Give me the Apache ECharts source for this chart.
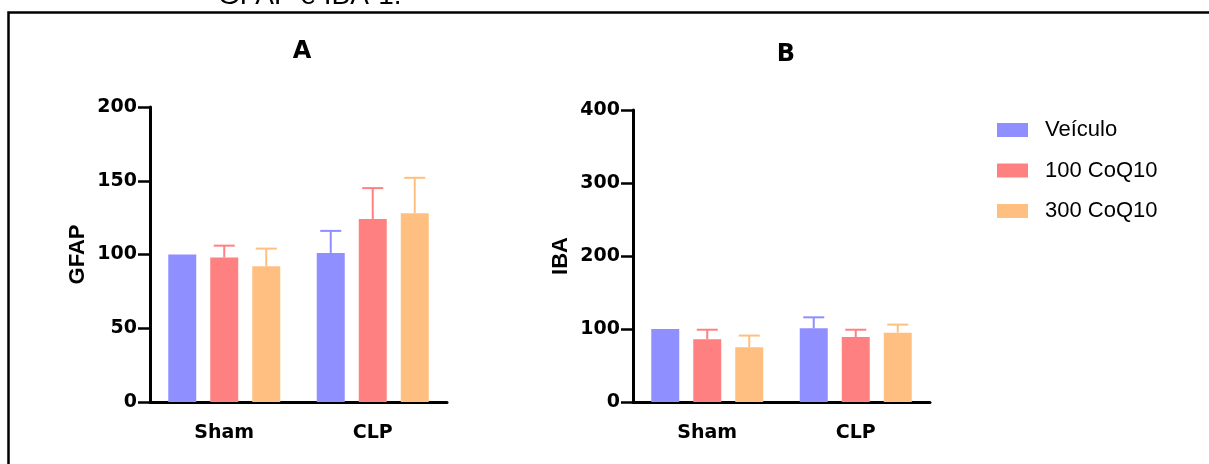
<!DOCTYPE html>
<html>
<head>
<meta charset="utf-8">
<script src="https://cdn.jsdelivr.net/npm/echarts@6/dist/echarts.min.js"></script>
<style>
html,body{margin:0;padding:0;background:#fff;}
#chart{width:1209px;height:464px;}
</style>
</head>
<body>
<div id="chart"></div>
<script>
// ---- data ----
var categories = ['Sham', 'CLP'];
var seriesNames = ['Veículo', '100 CoQ10', '300 CoQ10'];
var colors = ['#8F8FFF', '#FF8080', '#FFBF80'];

var gfapMean = [[100, 101], [98, 124], [92, 128]];
var gfapErr  = [[0, 15], [8, 21], [12, 24]];

var ibaMean = [[100, 101], [86, 89], [75, 95]];
var ibaErr  = [[0, 15], [13, 10], [16, 11]];

var gfapTicks = { min: 0, max: 200, interval: 50 };
var ibaTicks  = { min: 0, max: 400, interval: 100 };

// ---- chart ----
var chart = echarts.init(document.getElementById('chart'), null, { renderer: 'canvas' });

var BAR_W = 28, BAR_GAP = 14, CAP_W = 21;
var tickFont = { fontFamily: 'DejaVu Sans', fontWeight: 'bold', fontSize: 19, color: '#000' };

function makeErrSeries(gridIdx, sIdx, means, errs) {
  var data = categories.map(function (c, i) { return [i, means[sIdx][i], errs[sIdx][i]]; });
  return {
    type: 'custom',
    xAxisIndex: gridIdx, yAxisIndex: gridIdx,
    z: 1,
    silent: true,
    data: data,
    renderItem: function (params, api) {
      var ci = api.value(0), m = api.value(1), e = api.value(2);
      if (!e) return null;
      var base = api.coord([ci, m]);
      var top = api.coord([ci, m + e]);
      var off = (sIdx - 1) * (BAR_W + BAR_GAP);
      var x = base[0] + off;
      var st = { stroke: colors[sIdx], lineWidth: 2 };
      return {
        type: 'group',
        children: [
          { type: 'line', shape: { x1: x, y1: base[1], x2: x, y2: top[1] }, style: st },
          { type: 'line', shape: { x1: x - CAP_W / 2, y1: top[1], x2: x + CAP_W / 2, y2: top[1] }, style: st }
        ]
      };
    }
  };
}

var series = [];
[[gfapMean, gfapErr], [ibaMean, ibaErr]].forEach(function (set, g) {
  seriesNames.forEach(function (name, s) {
    series.push({
      name: name,
      type: 'bar',
      xAxisIndex: g, yAxisIndex: g,
      barWidth: BAR_W,
      barGap: (BAR_GAP / BAR_W * 100) + '%',
      itemStyle: { color: colors[s] },
      z: 2,
      data: set[0][s]
    });
  });
  seriesNames.forEach(function (name, s) {
    series.push(makeErrSeries(g, s, set[0], set[1]));
  });
});

function xAxisOpt(idx) {
  return {
    type: 'category', gridIndex: idx, data: categories,
    axisLine: { lineStyle: { color: '#000', width: 3 } },
    axisTick: { alignWithLabel: true, length: 12, lineStyle: { color: '#000', width: 2.5 } },
    axisLabel: Object.assign({ margin: 22 }, tickFont)
  };
}
function yAxisOpt(idx, t, name) {
  return {
    type: 'value', gridIndex: idx, min: t.min, max: t.max, interval: t.interval,
    name: name, nameLocation: 'middle', nameGap: 61, nameRotate: 90,
    nameTextStyle: { fontFamily: 'Liberation Sans', fontWeight: 'bold', fontSize: 22, color: '#000' },
    axisLine: { show: true, lineStyle: { color: '#000', width: 3 } },
    axisTick: { show: true, length: 12, lineStyle: { color: '#000', width: 2.5 } },
    splitLine: { show: false },
    axisLabel: Object.assign({ margin: 13 }, tickFont)
  };
}

var option = {
  animation: false,
  backgroundColor: '#fff',
  grid: [
    { left: 150, top: 107, width: 297, height: 295 },
    { left: 633, top: 110, width: 297, height: 292 }
  ],
  xAxis: [xAxisOpt(0), xAxisOpt(1)],
  yAxis: [yAxisOpt(0, gfapTicks, 'GFAP'), yAxisOpt(1, ibaTicks, 'IBA')],
  legend: {
    orient: 'vertical',
    left: 997, top: 119, padding: 0,
    itemWidth: 31, itemHeight: 14, itemGap: 18.5,
    icon: 'rect',
    data: seriesNames,
    selectedMode: false,
    textStyle: { fontFamily: 'Liberation Sans', fontSize: 22, lineHeight: 21, color: '#000', padding: [0, 0, 0, 12] }
  },
  graphic: [
    { type: 'rect', shape: { x: 8.5, y: 12.5, width: 1400, height: 600 }, style: { fill: 'none', stroke: '#000', lineWidth: 2.5 }, silent: true },
    { type: 'text', left: 218, top: -18, style: { text: 'GFAP e IBA-1.', font: '28px "Liberation Sans"', fill: '#000' }, silent: true },
    { type: 'text', x: 302, y: 52, style: { text: 'A', font: 'bold 24px "DejaVu Sans"', fill: '#000', textAlign: 'center', textVerticalAlign: 'middle' }, silent: true },
    { type: 'text', x: 786, y: 55, style: { text: 'B', font: 'bold 24px "DejaVu Sans"', fill: '#000', textAlign: 'center', textVerticalAlign: 'middle' }, silent: true }
  ],
  series: series
};
chart.setOption(option);
</script>
</body>
</html>
